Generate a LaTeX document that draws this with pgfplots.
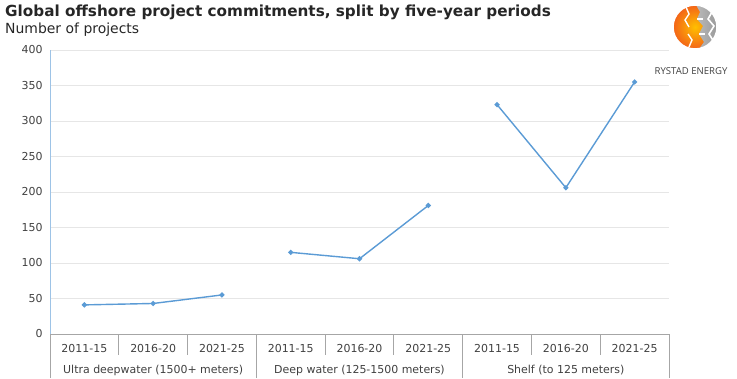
\documentclass[border=0pt]{standalone}
\usepackage{pgfplots}
\pgfplotsset{compat=1.18}
\usepackage{fontspec}
\setmainfont{DejaVu Sans}
\newfontfamily\logofont{Open Sans}
\definecolor{lineblue}{HTML}{5B9BD5}
\definecolor{yaxisblue}{HTML}{9DC3E6}
\definecolor{gridgray}{HTML}{E6E6E6}
\definecolor{divgray}{HTML}{A6A6A6}
\definecolor{tickcol}{HTML}{404040}
\definecolor{titlecol}{HTML}{262626}
\definecolor{logoorange}{HTML}{F07C1E}
\definecolor{logogray}{HTML}{8C8C8C}
\begin{document}
\begin{tikzpicture}[x=1bp,y=1bp]
\path[use as bounding box] (0,0) rectangle (737,378);
\node[anchor=base west, inner sep=0, font=\bfseries\fontsize{15.3}{18}\selectfont, text=titlecol] at (5,362) {Global offshore project commitments, split by five-year periods};
\node[anchor=base west, inner sep=0, font=\fontsize{14}{16}\selectfont, text=titlecol] at (5,345) {Number of projects};
% logo
\begin{scope}
\clip (695,351) circle (22);
\shade[inner color=orange!50!yellow, outer color=logoorange!80!red] (673,329) rectangle (717,373);
\shade[left color=logogray!60, right color=logogray!110!black] (696,373) -- (700,366) -- (697,359) -- (703,352) -- (699,344) -- (704,336) -- (699,329) -- (717,329) -- (717,373) -- cycle;
\draw[white, line width=1.6bp] (708,375) -- (712,366) -- (708,359) -- (714,352) -- (709,344) -- (714,336) -- (710,327);
\draw[white, line width=1.4bp] (686,371) -- (689,364) -- (685,358) -- (689,351);
\draw[white, line width=1.4bp] (688,344) -- (692,338) -- (689,331);
\draw[white, line width=1.2bp] (697,359) -- (703,359);
\draw[white, line width=1.2bp] (699,344) -- (705,344);
\end{scope}
\draw[white, line width=1.5bp] (695,351) circle (22);
\node[anchor=base, inner sep=0, font=\logofont\fontsize{9.6}{11}\selectfont, text=tickcol] at (691,304) {RYSTAD ENERGY};
\begin{axis}[
  at={(50bp,44bp)}, anchor=south west, scale only axis,
  width=619bp, height=284bp,
  xmin=-0.5, xmax=8.5, ymin=0, ymax=400,
  ytick={0,50,...,400},
  xtick={0,...,8},
  xticklabels={2011-15,2016-20,2021-25,2011-15,2016-20,2021-25,2011-15,2016-20,2021-25},
  axis lines*=left,
  x axis line style={draw=divgray, line width=0.8bp},
  y axis line style={draw=yaxisblue, line width=1bp},
  ymajorgrids, grid style={gridgray, line width=0.8bp},
  major tick length=0,
  clip=false,
  /pgf/number format/assume math mode=true,
  ticklabel style={font=\fontsize{11}{13}\selectfont, text=tickcol},
  xticklabel style={anchor=base, yshift=-18bp},
  yticklabel style={xshift=-4bp},
]
\addplot[lineblue, line width=1.4bp, mark=*, mark size=1.8bp] coordinates {(0,41) (1,43) (2,55)};
\addplot[lineblue, line width=1.4bp, mark=*, mark size=1.8bp] coordinates {(3,115) (4,106) (5,181)};
\addplot[lineblue, line width=1.4bp, mark=*, mark size=1.8bp] coordinates {(6,323) (7,206) (8,355)};
\pgfplotsinvokeforeach{0.5,1.5,3.5,4.5,6.5,7.5}{
  \draw[divgray, line width=0.8bp] (axis cs:#1,0) -- ++(0bp,-21bp);
}
\pgfplotsinvokeforeach{-0.5,2.5,5.5,8.5}{
  \draw[divgray, line width=0.8bp] (axis cs:#1,0) -- ++(0bp,-44bp);
}
\node[anchor=base, inner sep=0, font=\fontsize{11}{13}\selectfont, text=tickcol, yshift=-39bp] at (axis cs:1,0) {Ultra deepwater (1500+ meters)};
\node[anchor=base, inner sep=0, font=\fontsize{11}{13}\selectfont, text=tickcol, yshift=-39bp] at (axis cs:4,0) {Deep water (125-1500 meters)};
\node[anchor=base, inner sep=0, font=\fontsize{11}{13}\selectfont, text=tickcol, yshift=-39bp] at (axis cs:7,0) {Shelf (to 125 meters)};
\end{axis}
\end{tikzpicture}
\end{document}
